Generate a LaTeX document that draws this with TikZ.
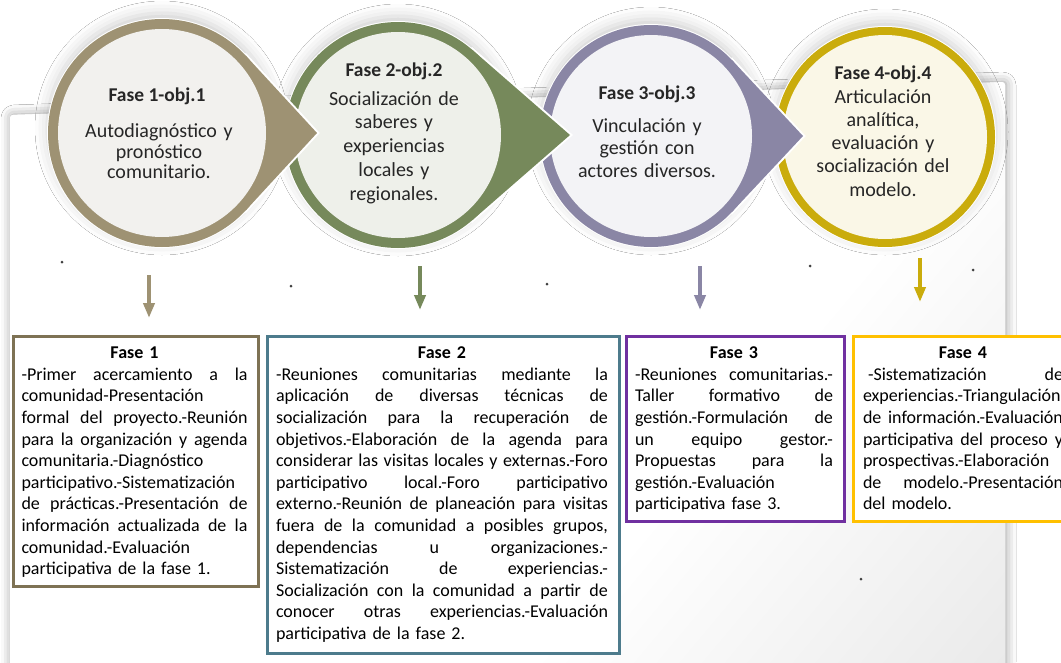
\documentclass[tikz,border=0pt]{standalone}
\usepackage{fontspec}
\setmainfont{Carlito}
\usetikzlibrary{arrows.meta,shadows.blur}
\definecolor{ringA}{HTML}{9E9273}
\definecolor{fillA}{HTML}{F2F1EE}
\definecolor{ringB}{HTML}{76895B}
\definecolor{fillB}{HTML}{EEF0EA}
\definecolor{ringC}{HTML}{8A86A5}
\definecolor{fillC}{HTML}{F3F3F6}
\definecolor{ringD}{HTML}{CAAC0C}
\definecolor{fillD}{HTML}{FAF7E7}
\definecolor{boxA}{HTML}{7E7254}
\definecolor{boxB}{HTML}{4D7B8C}
\definecolor{boxC}{HTML}{7030A0}
\definecolor{boxD}{HTML}{FFC000}
\definecolor{txt}{HTML}{262626}
\pgfdeclarehorizontalshading{papershade}{100bp}{color(0bp)=(white); color(62bp)=(white); color(100bp)=(black!14)}
\newlength{\colw}
\newcommand{\JLine}[1]{\noindent\hbox to \colw{\spaceskip=0.226em plus 1fill\relax #1}\par}
\newcommand{\LLine}[1]{\noindent\hbox to \colw{#1\hfil}\par}
\newcommand{\TLine}[1]{\noindent\hbox to \colw{\hfil\rule{0pt}{14pt}\bfseries #1\hfil}\par}
\begin{document}
\begin{tikzpicture}[x=1pt,y=-1pt,
  cshadow/.style={blur shadow={shadow xshift=0pt, shadow yshift=5pt, shadow blur radius=12pt, shadow opacity=18}},
  ctitle/.style={anchor=base, inner sep=0pt, text=txt, font=\bfseries\fontsize{19.5}{24}\selectfont},
  cbody/.style={anchor=north, inner sep=0pt, text=txt, text width=210pt, align=center},
  boxframe/.style={draw, line width=3pt, fill=white, anchor=north west, inner sep=0pt},
  boxtext/.style={anchor=north, inner sep=0pt, text=black, font=\fontsize{18}{21.6}\selectfont},
  downarrow/.style={line width=4.5pt, -{Triangle[width=11pt,length=15pt]}},
  dot/.style={circle, fill=black!75, inner sep=0pt, minimum size=3pt}
]
\useasboundingbox (0,0) rectangle (1061,662);
\clip (0,0) rectangle (1061,662);
\fill[white] (0,0) rectangle (1061,662);
% paper
\fill[white, blur shadow={shadow xshift=1pt, shadow yshift=0pt, shadow blur radius=10pt, shadow opacity=40}, rounded corners=3pt]
  (10,115) -- (1005,82) -- (1005,690) -- (10,690) -- cycle;
\shade[shading=papershade, shading angle=-40, rounded corners=3pt]
  (10,115) -- (1005,82) -- (1005,690) -- (10,690) -- cycle;

% circle 4
\fill[white, cshadow] (885,137) circle[radius=111pt];
\fill[ringD] (885,137) circle[radius=110pt];
\fill[fillD] (885,137) circle[radius=102pt];
% circle 3
\fill[white, cshadow] (651,136) circle[radius=112pt];
\draw[white, line width=4pt] (803,136) -- ($(651,136)+(43.09:111)$) -- (651,136) -- ($(651,136)+(-43.09:111)$) -- cycle;
\fill[ringC] (651,136) circle[radius=111pt];
\fill[ringC] (803,136) -- ($(651,136)+(43.09:111)$) -- (651,136) -- ($(651,136)+(-43.09:111)$) -- cycle;
\fill[fillC] (651,136) circle[radius=101pt];
% circle 2
\fill[white, cshadow] (398,135) circle[radius=114pt];
\draw[white, line width=4pt] (570,135) -- ($(398,135)+(48.93:113)$) -- (398,135) -- ($(398,135)+(-48.93:113)$) -- cycle;
\fill[ringB] (398,135) circle[radius=113pt];
\fill[ringB] (570,135) -- ($(398,135)+(48.93:113)$) -- (398,135) -- ($(398,135)+(-48.93:113)$) -- cycle;
\fill[fillB] (398,135) circle[radius=103pt];
% circle 1
\fill[white, cshadow] (162,133) circle[radius=115pt];
\draw[white, line width=4pt] (317,133) -- ($(162,133)+(42.65:114)$) -- (162,133) -- ($(162,133)+(-42.65:114)$) -- cycle;
\fill[ringA] (162,133) circle[radius=114pt];
\fill[ringA] (317,133) -- ($(162,133)+(42.65:114)$) -- (162,133) -- ($(162,133)+(-42.65:114)$) -- cycle;
\fill[fillA] (162,133) circle[radius=104pt];

% circle texts
\node[ctitle] (c1t) at (157,101.5) {Fase 1-obj.1};
\node[cbody, font=\fontsize{20}{20.5}\selectfont] (c1b) at (159,121.5) {\rule{0pt}{16pt}Autodiagnóstico y\\pronóstico\\comunitario.};
\node[ctitle] (c2t) at (394,76.5) {Fase 2-obj.2};
\node[cbody, font=\fontsize{20}{23.7}\selectfont] (c2b) at (394,89) {\rule{0pt}{16pt}Socialización de\\saberes y\\experiencias\\locales y\\regionales.};
\node[ctitle] (c3t) at (647,99.5) {Fase 3-obj.3};
\node[cbody, font=\fontsize{20}{22.5}\selectfont] (c3b) at (647,116) {\rule{0pt}{16pt}Vinculación y\\gestión con\\actores diversos.};
\node[ctitle] (c4t) at (883,79.5) {Fase 4-obj.4};
\node[cbody, font=\fontsize{20}{23.2}\selectfont] (c4b) at (883,87) {\rule{0pt}{16pt}Articulación\\analítica,\\evaluación y\\socialización del\\modelo.};

% dots
\node[dot] (d1) at (62,262) {};
\node[dot] (d2) at (291,286) {};
\node[dot] (d3) at (547,284) {};
\node[dot] (d4) at (810,266) {};
\node[dot] (d5) at (973,270) {};
\node[dot] (d6) at (861,579) {};

% arrows
\coordinate (a1s) at (149,275); \coordinate (a1e) at (149,318);
\coordinate (a2s) at (420,266); \coordinate (a2e) at (420,310);
\coordinate (a3s) at (700,266); \coordinate (a3e) at (700,310);
\coordinate (a4s) at (920,258); \coordinate (a4e) at (920,302);
\draw[downarrow, ringA] (a1s) -- (a1e);
\draw[downarrow, ringB] (a2s) -- (a2e);
\draw[downarrow, ringC] (a3s) -- (a3e);
\draw[downarrow, ringD] (a4s) -- (a4e);

% boxes
\node[boxframe, draw=boxA, minimum width=245pt, minimum height=250pt] (b1) at (12,335) {};
\node[boxframe, draw=boxB, minimum width=352pt, minimum height=317pt] (b2) at (266,335) {};
\node[boxframe, draw=boxC, minimum width=218pt, minimum height=185pt] (b3) at (625,335) {};
\node[boxframe, draw=boxD, minimum width=222pt, minimum height=185pt] (b4) at (852,335) {};

\node[boxtext, text width=226pt] (t1) at (134.5,344.5) {\setlength{\colw}{226pt}%
\TLine{Fase 1}
\JLine{-Primer acercamiento a la}
\LLine{comunidad-Presentación}
\JLine{formal del proyecto.-Reunión}
\JLine{para la organización y agenda}
\LLine{comunitaria.-Diagnóstico}
\LLine{participativo.-Sistematización}
\JLine{de prácticas.-Presentación de}
\JLine{información actualizada de la}
\LLine{comunidad.-Evaluación}
\LLine{participativa de la fase 1.}};

\node[boxtext, text width=332pt] (t2) at (442,344.5) {\setlength{\colw}{332pt}%
\TLine{Fase 2}
\JLine{-Reuniones comunitarias mediante la}
\JLine{aplicación de diversas técnicas de}
\JLine{socialización para la recuperación de}
\JLine{objetivos.-Elaboración de la agenda para}
\JLine{considerar las visitas locales y externas.-Foro}
\JLine{participativo local.-Foro participativo}
\JLine{externo.-Reunión de planeación para visitas}
\JLine{fuera de la comunidad a posibles grupos,}
\JLine{dependencias u organizaciones.-}
\JLine{Sistematización de experiencias.-}
\JLine{Socialización con la comunidad a partir de}
\JLine{conocer otras experiencias.-Evaluación}
\LLine{participativa de la fase 2.}};

\node[boxtext, text width=198pt] (t3) at (734,344.5) {\setlength{\colw}{198pt}%
\TLine{Fase 3}
\JLine{-Reuniones comunitarias.-}
\JLine{Taller formativo de}
\JLine{gestión.-Formulación de}
\JLine{un equipo gestor.-}
\JLine{Propuestas para la}
\LLine{gestión.-Evaluación}
\LLine{participativa fase 3.}};

\node[boxtext, text width=200pt] (t4) at (963,344.5) {\setlength{\colw}{200pt}%
\TLine{Fase 4}
\JLine{\hspace{5pt}-Sistematización de}
\LLine{experiencias.-Triangulación}
\JLine{de información.-Evaluación}
\JLine{participativa del proceso y}
\LLine{prospectivas.-Elaboración}
\JLine{de modelo.-Presentación}
\LLine{del modelo.}};
\end{tikzpicture}
\end{document}
